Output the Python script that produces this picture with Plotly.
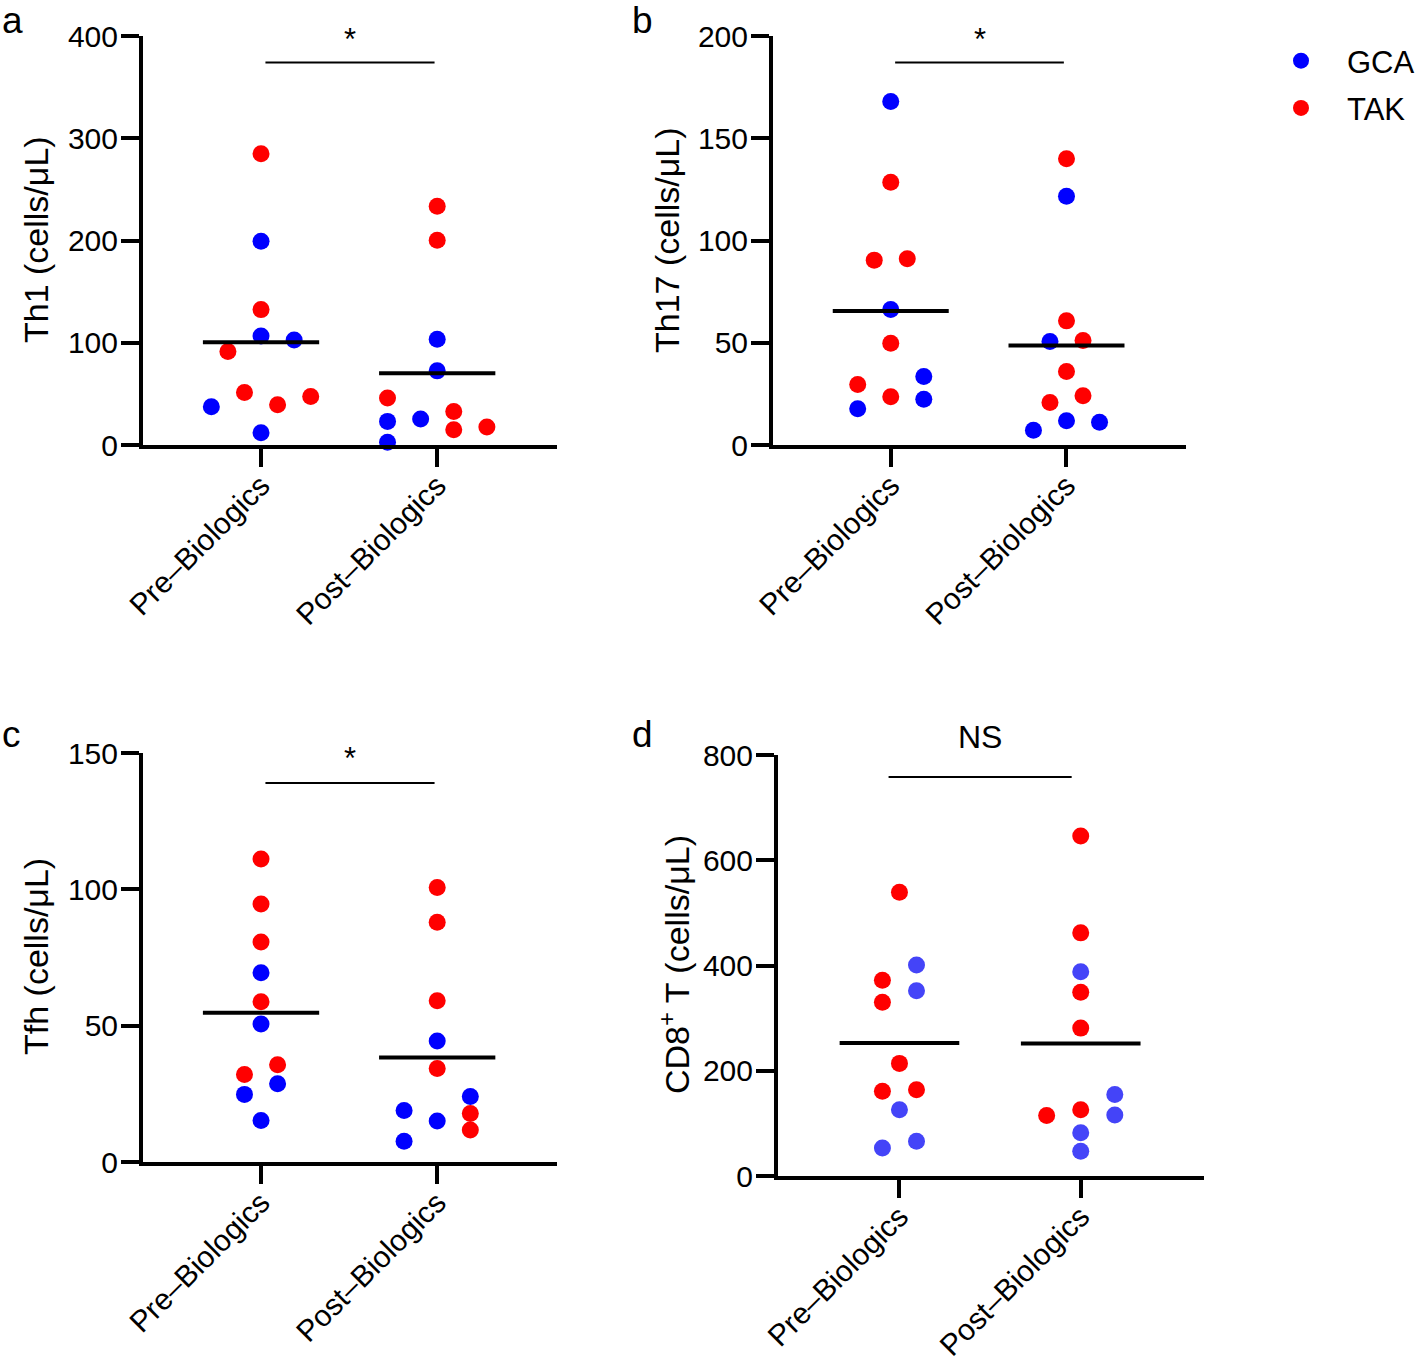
import numpy as np
import plotly.graph_objects as go

# ---------------- data ----------------
categories = ["Pre\u2013Biologics", "Post\u2013Biologics"]
groups = ["GCA", "TAK"]

# Panel a: Th1 (cells/uL)
th1_pre = [284.9, 199.3, 132.4, 106.7, 102.8, 91.4, 51.4, 39.3, 47.5, 37.4, 12.0]
th1_pre_grp = ["TAK", "GCA", "TAK", "GCA", "GCA", "TAK", "TAK", "TAK", "TAK", "GCA", "GCA"]
th1_pre_slot = [0, 0, 0, 0, 2, -2, -1, 1, 3, -3, 0]
th1_post = [233.5, 200.3, 103.4, 72.5, 45.9, 23.1, 25.4, 32.8, 15.0, 17.6, 2.6]
th1_post_grp = ["TAK", "TAK", "GCA", "GCA", "TAK", "GCA", "GCA", "TAK", "TAK", "TAK", "GCA"]
th1_post_slot = [0, 0, 0, 0, -3, -3, -1, 1, 1, 3, -3]

# Panel b: Th17 (cells/uL)
th17_pre = [168.0, 128.5, 90.4, 91.1, 66.3, 49.8, 29.6, 23.6, 33.5, 22.4, 17.7]
th17_pre_grp = ["GCA", "TAK", "TAK", "TAK", "GCA", "TAK", "TAK", "TAK", "GCA", "GCA", "GCA"]
th17_pre_slot = [0, 0, -1, 1, 0, 0, -2, 0, 2, 2, -2]
th17_post = [140.0, 121.6, 60.7, 50.6, 51.1, 35.9, 20.8, 24.1, 11.9, 11.1, 7.2]
th17_post_grp = ["TAK", "GCA", "TAK", "GCA", "TAK", "TAK", "TAK", "TAK", "GCA", "GCA", "GCA"]
th17_post_slot = [0, 0, 0, -1, 1, 0, -1, 1, 0, 2, -2]

# Panel c: Tfh (cells/uL)
tfh_pre = [111.1, 94.6, 80.7, 69.4, 58.8, 50.6, 35.7, 32.1, 28.7, 24.8, 15.2]
tfh_pre_grp = ["TAK", "TAK", "TAK", "GCA", "TAK", "GCA", "TAK", "TAK", "GCA", "GCA", "GCA"]
tfh_pre_slot = [0, 0, 0, 0, 0, 0, 1, -1, 1, -1, 0]
tfh_post = [100.7, 87.9, 59.1, 44.4, 34.3, 24.0, 18.9, 17.8, 15.0, 11.7, 7.6]
tfh_post_grp = ["TAK", "TAK", "TAK", "GCA", "TAK", "GCA", "GCA", "TAK", "GCA", "TAK", "GCA"]
tfh_post_slot = [0, 0, 0, 0, 0, 2, -2, 2, 0, 2, -2]

# Panel d: CD8+ T (cells/uL)
cd8_pre = [539, 401, 372, 352, 330, 214, 161, 164, 126, 66, 53]
cd8_pre_grp = ["TAK", "GCA", "TAK", "GCA", "TAK", "TAK", "TAK", "TAK", "GCA", "GCA", "GCA"]
cd8_pre_slot = [0, 1, -1, 1, -1, 0, -1, 1, 0, 1, -1]
cd8_post = [646, 462, 388, 349, 281, 155, 126, 115, 116, 82, 47]
cd8_post_grp = ["TAK", "TAK", "GCA", "TAK", "TAK", "GCA", "TAK", "TAK", "GCA", "GCA", "GCA"]
cd8_post_slot = [0, 0, 0, 0, 0, 2, 0, -2, 2, 0, 0]

panel_letters = ["a", "b", "c", "d"]
y_titles = ["Th1 (cells/\u03bcL)", "Th17 (cells/\u03bcL)", "Tfh (cells/\u03bcL)",
            "CD8<sup>+</sup> T (cells/\u03bcL)"]
y_ticks = [[0, 100, 200, 300, 400], [0, 50, 100, 150, 200], [0, 50, 100, 150], [0, 200, 400, 600, 800]]
sig_labels = ["*", "*", "*", "NS"]
sig_bar_y = [374, 187, 139, 758]
sig_text_y = [397, 198.5, 148, 834]

# ---------------- layout geometry (pixels of the 1418x1364 canvas) ----------------
W, H = 1418, 1364
panel_px = [  # left, right, top, bottom
    (143, 557, 36, 445),
    (773, 1186, 36, 445),
    (143, 557, 753, 1162),
    (778, 1204, 755, 1176),
]
title_px = [(36, 240), (667, 240), (36, 957), (674, 965)]
letter_px = [(0, -2), (630, -2), (0, 712), (630, 712)]
XR = [-0.67, 1.68]
SLOT = 0.094
HALF = 0.33

colors_abc = {"GCA": "#0000FF", "TAK": "#FF0000"}
colors_d = {"GCA": "#4444F8", "TAK": "#FF0000"}

panels = [
    (th1_pre, th1_pre_grp, th1_pre_slot, th1_post, th1_post_grp, th1_post_slot),
    (th17_pre, th17_pre_grp, th17_pre_slot, th17_post, th17_post_grp, th17_post_slot),
    (tfh_pre, tfh_pre_grp, tfh_pre_slot, tfh_post, tfh_post_grp, tfh_post_slot),
    (cd8_pre, cd8_pre_grp, cd8_pre_slot, cd8_post, cd8_post_grp, cd8_post_slot),
]

FONT = "Liberation Sans, Arial, sans-serif"
fig = go.Figure()
layout = dict(width=W, height=H, margin=dict(l=0, r=0, t=0, b=0, autoexpand=False),
              plot_bgcolor="white", paper_bgcolor="white",
              font=dict(family=FONT, color="black"))
annotations = []
shapes = []

for i, (pre, pre_g, pre_s, post, post_g, post_s) in enumerate(panels):
    n = "" if i == 0 else str(i + 1)
    xa, ya = "x" + n, "y" + n
    cols = colors_d if i == 3 else colors_abc
    for ci, (vals, grp, slot) in enumerate([(pre, pre_g, pre_s), (post, post_g, post_s)]):
        vals = np.array(vals, dtype=float)
        grp = np.array(grp)
        slot = np.array(slot, dtype=float)
        for g in groups:
            m = grp == g
            fig.add_trace(go.Scatter(
                x=ci + slot[m] * SLOT, y=vals[m], mode="markers",
                marker=dict(color=cols[g], size=17, line=dict(width=0)),
                xaxis=xa, yaxis=ya, showlegend=False, cliponaxis=False,
                hoverinfo="skip"))
        mean = float(np.mean(vals))
        fig.add_trace(go.Scatter(
            x=[ci - HALF, ci + HALF], y=[mean, mean], mode="lines",
            line=dict(color="black", width=4), xaxis=xa, yaxis=ya,
            showlegend=False, cliponaxis=False, hoverinfo="skip"))

    l, r, t, b = panel_px[i]
    yr = [y_ticks[i][0], y_ticks[i][-1]]
    layout["xaxis" + n] = dict(
        domain=[l / W, r / W], range=XR, anchor=ya, showline=True, linewidth=4,
        linecolor="black", ticks="outside", ticklen=18, tickwidth=4, tickcolor="black",
        tickvals=[0, 1], ticktext=categories, tickangle=-45, ticklabelstandoff=-11,
        tickfont=dict(size=30, family=FONT), showgrid=False, zeroline=False, fixedrange=True)
    layout["yaxis" + n] = dict(
        domain=[1 - b / H, 1 - t / H], range=yr, anchor=xa,
        showline=True, linewidth=4, linecolor="black", ticks="outside", ticklen=18,
        tickwidth=4, tickcolor="black", tickvals=y_ticks[i], ticklabelstandoff=-3,
        tickfont=dict(size=30, family=FONT), showgrid=False, zeroline=False, fixedrange=True)

    # significance bar
    x0, x1 = (0.025, 0.985) if i < 3 else (-0.06, 0.95)
    shapes.append(dict(type="line", xref=xa, yref=ya, x0=x0, x1=x1,
                       y0=sig_bar_y[i], y1=sig_bar_y[i], line=dict(color="black", width=2)))
    annotations.append(dict(xref=xa, yref=ya + " domain",
                            x=(x0 + x1) / 2, y=(sig_text_y[i] - yr[0]) / (yr[1] - yr[0]),
                            text=sig_labels[i], showarrow=False,
                            font=dict(size=31 if i < 3 else 32, family=FONT),
                            xanchor="center", yanchor="middle"))
    # y title
    tx, ty = title_px[i]
    annotations.append(dict(xref="paper", yref="paper", x=tx / W, y=1 - ty / H,
                            text=y_titles[i], showarrow=False, textangle=-90,
                            font=dict(size=34, family=FONT),
                            xanchor="center", yanchor="middle"))
    # panel letter
    lx, ly = letter_px[i]
    annotations.append(dict(xref="paper", yref="paper", x=lx / W, y=1 - ly / H,
                            text=panel_letters[i], showarrow=False,
                            font=dict(size=37, family=FONT),
                            xanchor="left", yanchor="top"))

# legend entries
for g in groups:
    fig.add_trace(go.Scatter(x=[None], y=[None], mode="markers", name=g,
                             marker=dict(color=colors_abc[g], size=17),
                             legendgroup=g, showlegend=True))

layout["annotations"] = annotations
layout["shapes"] = shapes
layout["showlegend"] = True
layout["legend"] = dict(x=1255 / W, y=1 - 34 / H, xanchor="left", yanchor="top",
                        font=dict(size=31, family=FONT), itemwidth=82,
                        traceorder="grouped", tracegroupgap=4,
                        bgcolor="rgba(0,0,0,0)")
fig.update_layout(**layout)
fig.write_html("out.html", post_script="document.body.style.margin='0';",
               config={"displayModeBar": False})
